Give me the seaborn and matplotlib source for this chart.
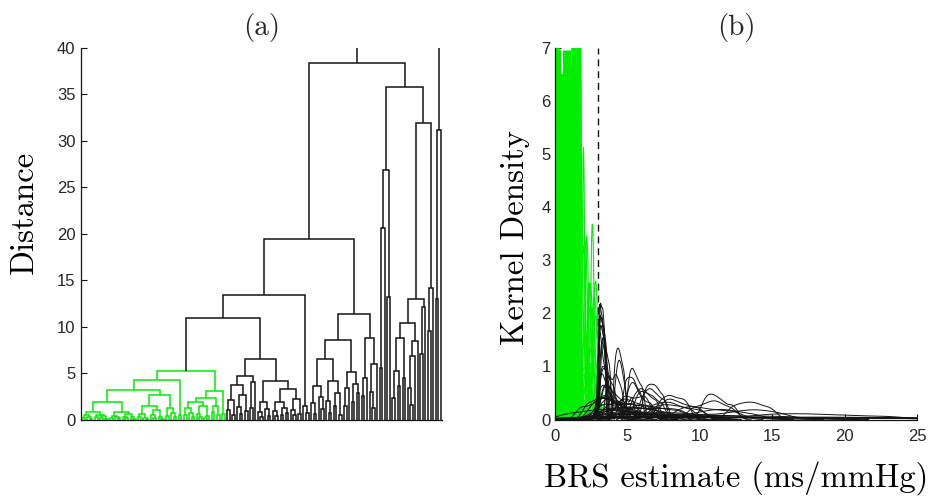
import matplotlib
matplotlib.use("Agg")
import matplotlib.pyplot as plt
import seaborn as sns
import numpy as np
import pandas as pd

# ---------------- panel (a): hierarchical clustering tree ----------------
# node = [merge distance, left, right]; leaf = 0
green_a = [0.8, [0.45, [0.2, 0, 0], [0.3, 0, [0.1, 0, 0]]], [0.5, [0.25, 0, 0], [0.35, [0.15, 0, 0], [0.1, 0, 0]]]]
green_b = [0.8, [0.4, [0.2, 0, 0], [0.3, 0, [0.12, 0, 0]]], [0.6, [0.3, 0, [0.15, 0, 0]], [0.25, 0, [0.1, 0, 0]]]]
green_xl = [1.4, [0.6, [0.3, 0, 0], [0.2, 0, [0.1, 0, 0]]], [1.0, [0.5, 0, [0.2, 0, 0]], [0.3, 0, [0.1, 0, 0]]]]
green_xr = [1.2, [0.4, 0, 0], [0.7, 0, [0.3, 0, 0]]]
green_d = [0.5, 0, 0]
green_e = [2.3, [1.9, [1.2, [0.5, 0, 0], [0.7, 0, [0.3, 0, 0]]], [1.5, [0.6, 0, [0.25, 0, 0]], [0.4, [0.2, 0, 0], 0]]],
           [1.4, [0.8, 0, 0], [0.5, 0, 0]]]
green_f = [0.6, 0, 0]
green_tree = [5.2, [4.3, [3.2, [1.9, green_a, green_b], [2.6, green_xl, green_xr]], green_d], [3.1, green_e, green_f]]

black_a = [3.7, [2.1, [1.0, 0, 0], [0.5, 0, 0]], [2.6, [1.3, 0, [0.6, 0, 0]], [0.9, 0, 0]]]
black_b = [4.0, [1.2, 0, 0], 0]
black_c = [1.9, [0.8, 0, [0.3, 0, 0]], [1.1, 0, [0.4, 0, 0]]]
black_d = [3.3, [1.9, [0.9, 0, [0.4, 0, 0]], [1.2, [0.5, 0, 0], [0.7, 0, 0]]],
           [2.2, [1.0, 0, [0.45, 0, 0]], [0.6, 0, 0]]]
black_d2 = [1.5, 0, [0.7, 0, 0]]
black_e = [3.6, [1.8, 0, [0.6, 0, 0]], [2.4, 0, [1.1, 0, 0]]]
black_f = [4.1, [2.0, 0, [0.7, 0, 0]], [2.9, [1.4, 0, 0], [0.5, 0, 0]]]
black_g = [3.4, [1.5, 0, 0], 0]
black_h = [3.8, [1.9, 0, 0], [2.8, 0, 0]]
black_i = [4.5, [2.5, 0, 0], 0]
black_j = [6.0, [3.0, 0, [1.2, 0, 0]], 0]
black_c1 = [26.9, [20.6, [5.5, 0, 0], 0], [13.2, 0, 0]]
black_k = [8.8, [5.2, [2.3, 0, 0], [3.6, 0, 0]], [4.5, 0, 0]]
black_l = [8.5, [6.8, [3.4, 0, [1.6, 0, 0]], 0], 0]
black_m = [12.1, [7.0, 0, 0], 0]
black_n = [14.2, [9.5, 0, 0], 0]
black_z = [31.2, [13.0, 0, 0], 0]

branch_h = [6.5, [4.7, black_a, black_b], [4.1, black_c, black_d]]
branch_d = [13.4, [10.9, green_tree, branch_h], black_d2]
branch_e = [11.4, [8.6, [6.5, black_e, black_f], [5.1, black_g, black_h]], [8.8, black_i, black_j]]
branch_c = [35.8, black_c1, [31.9, [13.0, [10.4, black_k, black_l], black_m], black_n]]
root = [44.0, [38.4, [19.4, branch_d, branch_e], branch_c], black_z]

# ---------------- panel (b): BRS estimates per subject ----------------
green_subjects = [
    [0.03, 0.06, 0.08, 0.10, 0.13], [0.08, 0.11, 0.13, 0.15, 0.19], [0.12, 0.15, 0.17, 0.20, 0.22],
    [0.17, 0.20, 0.23, 0.25, 0.28], [0.20, 0.24, 0.26, 0.28, 0.33], [0.25, 0.29, 0.31, 0.34, 0.37],
    [0.27, 0.31, 0.35, 0.37, 0.41], [0.33, 0.36, 0.39, 0.41, 0.45], [0.36, 0.39, 0.42, 0.46, 0.48],
    [0.40, 0.43, 0.46, 0.49, 0.52], [0.43, 0.47, 0.51, 0.53, 0.57], [0.48, 0.51, 0.54, 0.57, 0.60],
    [0.50, 0.55, 0.58, 0.61, 0.66], [0.56, 0.59, 0.62, 0.64, 0.68], [0.58, 0.62, 0.64, 0.68, 0.71],
    [0.63, 0.67, 0.69, 0.72, 0.76], [0.63, 0.69, 0.72, 0.75, 0.80], [0.70, 0.73, 0.76, 0.78, 0.82],
    [0.71, 0.75, 0.79, 0.81, 0.86], [0.77, 0.80, 0.83, 0.86, 0.89], [0.78, 0.83, 0.86, 0.90, 0.93],
    [0.84, 0.87, 0.90, 0.92, 0.96], [0.85, 0.89, 0.93, 0.97, 1.01], [0.90, 0.94, 0.97, 0.99, 1.03],
    [0.92, 0.96, 1.00, 1.03, 1.08], [0.98, 1.01, 1.04, 1.06, 1.10], [0.98, 1.04, 1.07, 1.10, 1.15],
    [1.04, 1.08, 1.11, 1.13, 1.17], [1.06, 1.10, 1.13, 1.17, 1.21], [1.11, 1.15, 1.18, 1.20, 1.24],
    [1.12, 1.18, 1.22, 1.25, 1.30], [1.23, 1.27, 1.30, 1.33, 1.36], [1.30, 1.34, 1.37, 1.39, 1.43],
    [1.36, 1.41, 1.44, 1.47, 1.52], [1.42, 1.45, 1.48, 1.51, 1.54], [1.48, 1.52, 1.56, 1.59, 1.63],
    [1.60, 1.64, 1.68, 1.70, 1.74], [1.72, 1.75, 1.77, 1.79, 1.82], [1.85, 1.92, 1.97, 2.03, 2.10],
    [1.98, 2.05, 2.10, 2.16, 2.22], [2.20, 2.28, 2.35, 2.42, 2.52], [2.30, 2.38, 2.45, 2.52, 2.62],
    [2.47, 2.53, 2.58, 2.63, 2.69], [1.90, 2.00, 2.12, 2.25, 2.40], [2.60, 2.70, 2.80, 2.90, 3.00],
    [2.10, 2.30, 2.50, 2.70, 2.90], [0.05, 0.25, 0.50, 0.80, 1.10], [1.20, 1.90, 2.40, 2.80, 3.50],
    [0.60, 1.40, 2.10, 2.70, 3.20], [1.50, 1.75, 2.00, 2.20, 2.45], [0.90, 1.30, 1.60, 1.95, 2.30],
    [1.88, 1.93, 1.96, 2.00, 2.04], [2.08, 2.14, 2.19, 2.25, 2.31], [2.25, 2.35, 2.44, 2.53, 2.62],
    [2.40, 2.50, 2.58, 2.68, 2.78], [2.55, 2.64, 2.72, 2.80, 2.90], [2.65, 2.72, 2.80, 2.87, 2.95],
    [1.70, 1.90, 2.10, 2.30, 2.50], [2.35, 2.45, 2.60, 2.75, 2.92], [2.00, 2.20, 2.35, 2.55, 2.75],
    [0.15, 0.40, 0.70, 1.00, 1.40],
    [1.15, 1.17, 1.19, 1.21, 1.24], [1.19, 1.22, 1.24, 1.26, 1.28], [1.26, 1.28, 1.31, 1.33, 1.35],
    [1.32, 1.34, 1.36, 1.38, 1.41], [1.38, 1.40, 1.42, 1.44, 1.47], [1.50, 1.52, 1.54, 1.56, 1.58],
    [1.55, 1.58, 1.60, 1.62, 1.65], [1.66, 1.68, 1.71, 1.73, 1.75],
]
black_subjects = [
    [3.02, 3.10, 3.20, 3.30, 3.42], [3.05, 3.14, 3.25, 3.36, 3.48], [3.08, 3.18, 3.30, 3.43, 3.56],
    [3.00, 3.10, 3.22, 3.40, 3.62], [3.10, 3.22, 3.38, 3.55, 3.75, 4.40], [4.12, 4.28, 4.42, 4.58, 4.78],
    [3.20, 3.60, 4.00, 4.50, 5.10, 5.60], [4.80, 5.05, 5.30, 5.55, 5.90], [5.00, 5.25, 5.45, 5.70, 6.10, 6.60],
    [3.30, 4.00, 4.80, 5.60, 6.30, 7.20], [5.40, 5.80, 6.10, 6.50, 7.00], [6.00, 6.40, 6.70, 7.10, 7.60],
    [3.50, 4.50, 5.80, 6.90, 8.20, 9.50], [6.50, 7.20, 7.80, 8.40, 9.30], [4.00, 5.50, 7.00, 8.50, 10.5, 12.5],
    [9.50, 10.3, 10.9, 11.4, 12.2], [8.00, 10.0, 11.2, 12.0, 13.5], [10.0, 12.0, 13.3, 14.2, 15.5],
    [3.00, 5.00, 8.00, 12.0, 17.0, 22.0], [3.50, 6.00, 9.50, 14.0, 19.0, 24.0], [3.1, 3.3, 3.6, 4.1, 4.9, 6.2, 8.0],
    [3.15, 3.35, 3.55, 3.80, 4.10], [3.25, 3.45, 3.70, 4.00, 4.35, 4.80], [4.3, 4.7, 5.1, 5.6, 6.2, 6.9],
    [5.2, 5.9, 6.6, 7.5, 8.6], [3.0, 3.2, 3.5, 3.9, 4.4, 5.0, 5.8], [3.4, 3.9, 4.6, 5.5, 6.6, 8.0, 9.8],
    [6.8, 7.5, 8.2, 9.0, 10.0], [3.2, 4.0, 5.2, 6.8, 9.0, 12.0, 16.0], [2.2, 2.8, 3.3, 3.7, 4.2],
    [1.0, 2.5, 3.4, 4.5, 6.0], [4.6, 5.0, 5.5, 6.0, 6.4], [7.2, 7.7, 8.1, 8.6, 9.1], [3.6, 3.8, 4.1, 4.3, 4.6],
    [3.05, 3.25, 3.5, 3.8, 4.2, 4.7], [5.5, 7.0, 9.0, 11.0, 13.5, 16.0], [3.1, 3.6, 5.0, 7.5, 11.0, 15.0, 20.0, 25.0],
    [4.5, 8.0, 12.0, 16.0, 20.0, 24.5],
    [3.04, 3.12, 3.21, 3.29, 3.40, 3.55], [3.08, 3.16, 3.26, 3.35, 3.47], [3.12, 3.22, 3.33, 3.46, 3.60, 3.80],
    [3.03, 3.15, 3.28, 3.45, 3.70, 4.05, 4.50], [3.20, 3.32, 3.45, 3.60, 3.78], [3.30, 3.45, 3.62, 3.85, 4.15, 4.60, 5.20],
    [4.20, 4.35, 4.48, 4.62, 4.85, 5.30], [3.50, 3.90, 4.40, 4.90, 5.40, 5.90, 6.50], [5.10, 5.30, 5.50, 5.75, 6.05],
    [5.60, 5.90, 6.20, 6.55, 6.90, 7.40], [6.20, 6.50, 6.80, 7.10, 7.50], [4.80, 5.60, 6.40, 7.20, 8.00, 8.80],
    [7.40, 7.80, 8.20, 8.70, 9.30, 10.0], [3.10, 3.40, 3.90, 4.60, 5.50, 6.60, 8.00, 10.0],
    [3.20, 3.80, 4.70, 5.90, 7.40, 9.20, 11.5, 14.0], [10.3, 10.7, 11.1, 11.6, 12.3], [12.2, 12.9, 13.5, 14.1, 14.9],
    [3.5, 5.5, 8.5, 12.5, 16.5, 20.5, 24.5], [4.0, 6.5, 10.5, 13.0, 16.5, 18.5, 22.0, 24.8],
    [3.3, 4.4, 6.2, 9.0, 12.8, 17.5, 23.0], [2.5, 3.0, 3.4, 3.8, 4.3, 5.0], [1.8, 2.6, 3.2, 3.6, 4.1],
    [3.6, 4.2, 4.9, 5.4, 6.1, 6.8, 7.7], [8.5, 9.2, 9.8, 10.6, 11.5, 12.5], [14.0, 15.5, 17.0, 18.5, 20.5, 23.0],
]
cluster_threshold = 3.0

y_ticks_a = [0, 5, 10, 15, 20, 25, 30, 35, 40]
x_ticks_b = [0, 5, 10, 15, 20, 25]
y_ticks_b = [0, 1, 2, 3, 4, 5, 6, 7]

# ---------------- drawing ----------------
sns.set_style("ticks")
plt.rcParams["font.family"] = ["Liberation Sans", "DejaVu Sans"]

GREEN = "#00ee00"
BLACK = "#141414"
TXT = "#262626"
SERIF = ["cmr10", "DejaVu Serif"]

fig = plt.figure(figsize=(9.32, 4.96), dpi=100)
axA = fig.add_axes([81 / 932, 1 - 419.5 / 496, 361 / 932, 371.5 / 496])
axB = fig.add_axes([555 / 932, 1 - 419.5 / 496, 362 / 932, 371.5 / 496])

counter = [0]


def draw(node, ax, green=False):
    if node == 0:
        counter[0] += 1
        return float(counter[0]), 0.0
    g = green or (node is green_tree)
    h, left, right = node
    xl, hl = draw(left, ax, g)
    xr, hr = draw(right, ax, g)
    ax.plot([xl, xl, xr, xr], [hl, h, h, hr], color=GREEN if g else BLACK, lw=1.1,
            solid_joinstyle="miter", solid_capstyle="butt")
    return (xl + xr) / 2.0, h


draw(root, axA)
n_leaves = counter[0]
axA.set_xlim(0.5, n_leaves + 0.5)
axA.set_ylim(0, 40)
axA.set_xticks([])
axA.set_yticks(y_ticks_a)
axA.set_ylabel("Distance", fontfamily=SERIF, fontsize=23.5, color="black")
axA.yaxis.set_label_coords(-0.118, 0.558)
axA.text(0.5, 1 + 13 / 371.5, "(a)", transform=axA.transAxes, ha="center", va="baseline",
         fontfamily=SERIF, fontsize=21)

for vals in green_subjects:
    sns.kdeplot(x=vals, ax=axB, color=GREEN, lw=0.8, clip=(0, 25), gridsize=300)
for vals in black_subjects:
    sns.kdeplot(x=vals, ax=axB, color=BLACK, lw=0.7, clip=(0, 25), gridsize=400, bw_adjust=0.6)
axB.axvline(cluster_threshold, color=BLACK, lw=1.0, ls=(0, (5, 3.5)))
axB.set_xlim(0, 25)
axB.set_ylim(0, 7)
axB.set_xticks(x_ticks_b)
axB.set_yticks(y_ticks_b)
axB.set_ylabel("Kernel Density", fontfamily=SERIF, fontsize=23.5, color="black")
axB.yaxis.set_label_coords(-0.069, 0.49)
axB.set_xlabel("BRS estimate (ms/mmHg)", fontfamily=SERIF, fontsize=23.5, color="black")
axB.xaxis.set_label_coords(0.5, -0.113)
axB.text(0.5, 1 + 13 / 371.5, "(b)", transform=axB.transAxes, ha="center", va="baseline",
         fontfamily=SERIF, fontsize=21)

for ax in (axA, axB):
    for s in ("top", "right"):
        ax.spines[s].set_visible(False)
    for s in ("left", "bottom"):
        ax.spines[s].set_color(BLACK)
        ax.spines[s].set_linewidth(0.9)
    ax.tick_params(direction="in", length=4, width=0.8, colors=BLACK, labelcolor=TXT, labelsize=12)
axA.tick_params(axis="y", pad=4)
axB.tick_params(axis="y", pad=3)
axB.tick_params(axis="x", pad=7)

fig.savefig("out.png", dpi=100)
